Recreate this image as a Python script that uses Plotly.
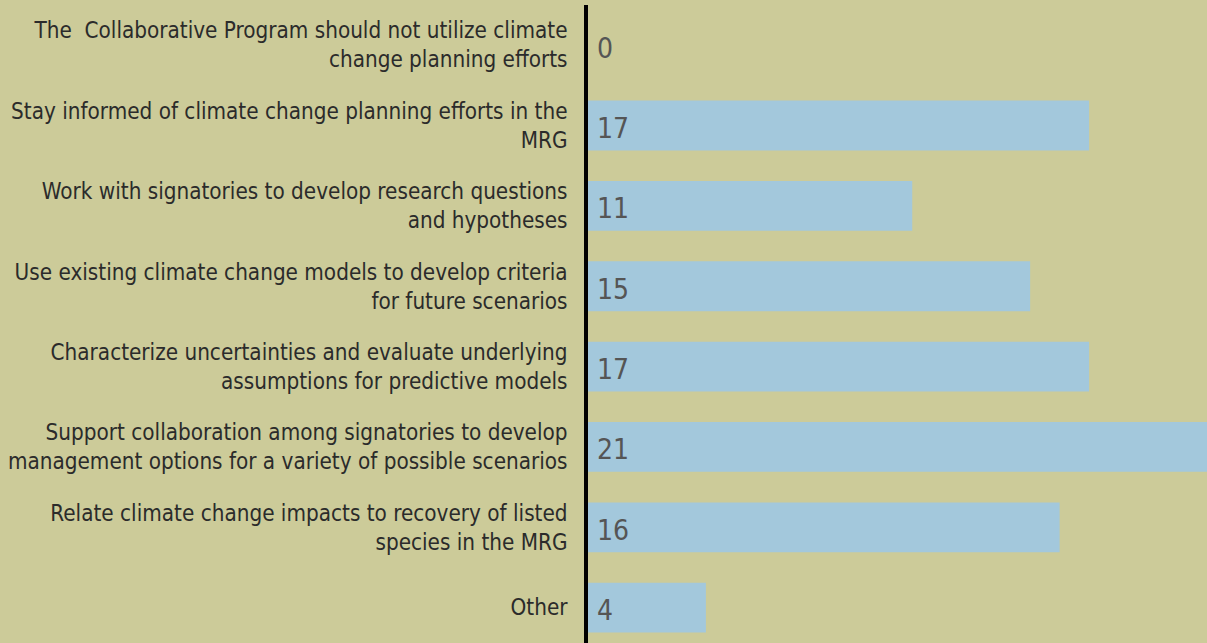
import plotly.graph_objects as go

categories = [
    "The  Collaborative Program should not utilize climate<br>change planning efforts",
    "Stay informed of climate change planning efforts in the<br>MRG",
    "Work with signatories to develop research questions<br>and hypotheses",
    "Use existing climate change models to develop criteria<br>for future scenarios",
    "Characterize uncertainties and evaluate underlying<br>assumptions for predictive models",
    "Support collaboration among signatories to develop<br>management options for a variety of possible scenarios",
    "Relate climate change impacts to recovery of listed<br>species in the MRG",
    "Other",
]
values = [0, 17, 11, 15, 17, 21, 16, 4]

labels = [c.replace("  ", " \u00a0") for c in categories]
idx = list(range(len(categories)))

BG = "#CCCB99"
BAR = "#A3C8DC"
FONT = "Liberation Sans Narrow, DejaVu Sans Condensed, Roboto, sans-serif"

fig = go.Figure()
fig.add_trace(go.Bar(
    x=values, y=idx, orientation="h",
    marker=dict(color=BAR, line=dict(width=0)),
    width=0.62, hoverinfo="skip",
))
for i, v in zip(idx, values):
    fig.add_annotation(x=0, y=i, text=str(v), showarrow=False,
                       xanchor="left", yanchor="middle", xshift=7, yshift=-3,
                       font=dict(family=FONT, size=28, color="#555555"))

fig.update_layout(
    width=1207, height=643,
    margin=dict(l=588, r=0, t=5, b=0),
    paper_bgcolor=BG, plot_bgcolor=BG,
    showlegend=False,
    font=dict(family=FONT, size=22.3, color="#2b2b2b"),
)
fig.update_xaxes(range=[0, 21], visible=False, showgrid=False, zeroline=False, automargin=False)
fig.update_yaxes(
    range=[7.44, -0.5], tickmode="array", tickvals=idx, ticktext=labels, automargin=False,
    showgrid=False, zeroline=False, showline=True, linecolor="black", linewidth=4,
    ticks="outside", ticklen=12, tickcolor=BG, tickfont=dict(family=FONT, size=22.3, color="#2b2b2b"),
)
fig.write_html("out.html", config={"displayModeBar": False})

with open("out.html", "r", encoding="utf-8") as f:
    html = f.read()
html = html.replace("<head>", "<head><style>html,body{margin:0;padding:0;background:%s;}</style>" % BG, 1)
with open("out.html", "w", encoding="utf-8") as f:
    f.write(html)
